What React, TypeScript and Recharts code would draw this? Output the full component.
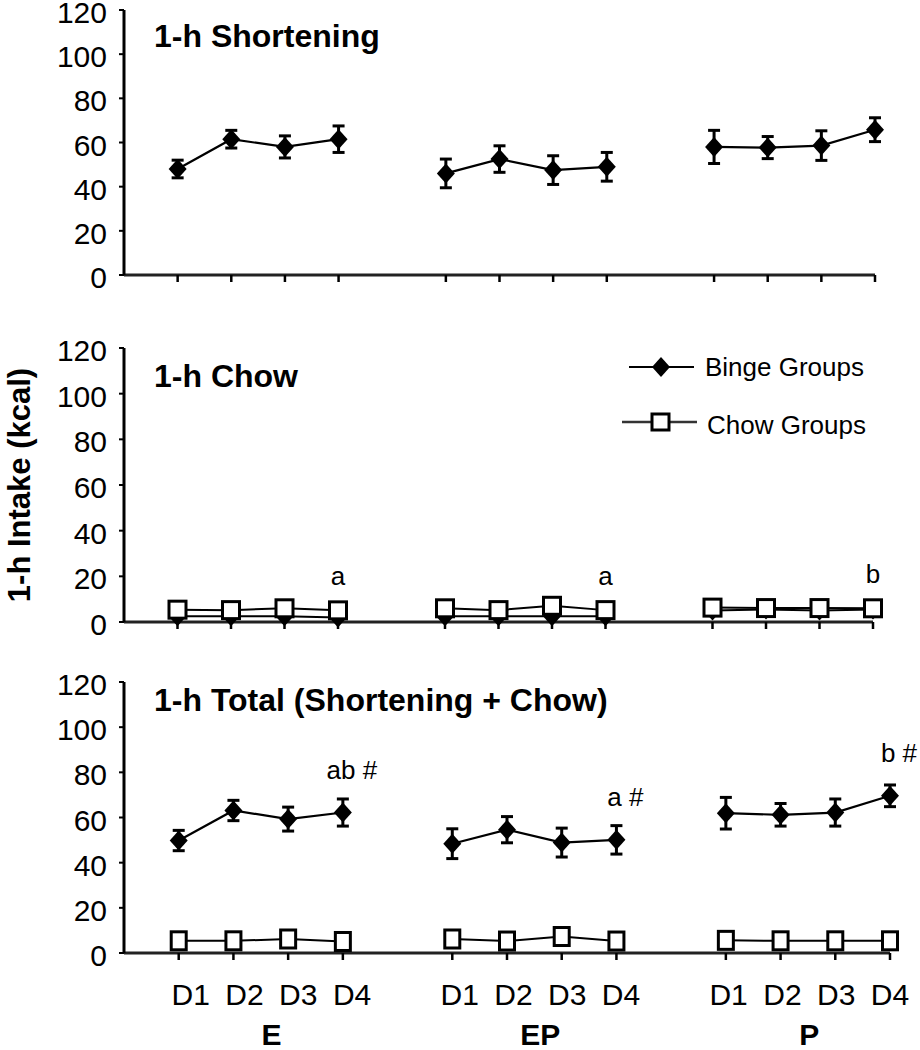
import React from "react";
import { LineChart, Line, XAxis, YAxis, ErrorBar, LabelList } from "recharts";

const FONT = '"Liberation Sans", Arial, Helvetica, sans-serif';

const days = ["D1", "D2", "D3", "D4"];
const groups = ["E", "EP", "P"];
const yTicks = [0, 20, 40, 60, 80, 100, 120];

// 1-h shortening (binge groups only)
const shortBinge = [48, 61.5, 58, 61.5, 46, 52.5, 47.5, 49, 58, 57.7, 58.6, 65.8];
const shortBingeErr = [4, 4, 5, 6, 6.5, 6, 6.5, 6.5, 7.5, 5, 6.7, 5.4];

// 1-h chow
const chowBinge = [2.5, 2.5, 2.5, 2, 2.5, 2.5, 2.5, 2.5, 5, 5.5, 5, 5.5];
const chowChow = [5.4, 5.2, 6, 5.1, 6, 5.2, 7.1, 5.2, 6.3, 6.1, 6.1, 6];
const chowNotes = ["", "", "", "a", "", "", "", "a", "", "", "", "b"];

// 1-h total
const totalBinge = [49.8, 63.1, 59.3, 62.2, 48.4, 54.6, 48.9, 50.1, 61.9, 61.2, 62.2, 69.6];
const totalBingeErr = [4.5, 4.5, 5.3, 6, 6.6, 5.8, 6.4, 6.3, 7, 5, 6, 4.8];
const totalChow = [5.4, 5.4, 6.2, 5.1, 6.2, 5.3, 7.3, 5.3, 5.6, 5.4, 5.4, 5.4];
const totalNotes = ["", "", "", "ab #", "", "", "", "a #", "", "", "", "b #"];

const xTicks = groups.flatMap((g, gi) => days.map((d, di) => gi * 5 + di + 1));
const groupCenters = groups.map((g, gi) => gi * 5 + 2.5);
const groupAnchorRows = groupCenters.map((x) => ({ x, v: 0 }));

function groupRows(values: number[], errs?: number[], notes?: string[]) {
  return groups.map((g, gi) =>
    days.map((d, di) => {
      const i = gi * 4 + di;
      return { x: gi * 5 + di + 1, v: values[i], e: errs ? errs[i] : 0, note: notes ? notes[i] : "" };
    })
  );
}

const diamondDot = (props: any) => {
  const { cx, cy, index } = props;
  if (cx == null || cy == null) return <g key={"d" + index} />;
  return (
    <path
      key={"d" + index}
      d={`M${cx},${cy - 10} L${cx + 9},${cy} L${cx},${cy + 10} L${cx - 9},${cy} Z`}
      fill="#000"
    />
  );
};

const squareDot = (w: number, h: number) => (props: any) => {
  const { cx, cy, index } = props;
  if (cx == null || cy == null) return <g key={"s" + index} />;
  return (
    <rect key={"s" + index} x={cx - w / 2} y={cy - h / 2} width={w} height={h} fill="#fff" stroke="#000" strokeWidth={3} />
  );
};

const noteLabel = (up: number, dx: number) => (props: any) => {
  const { x, y, value, index } = props;
  if (!value) return null;
  return (
    <text key={"n" + index} x={x + dx} y={y - up} textAnchor="middle" fontSize={26} fontFamily={FONT} fill="#000">
      {value}
    </text>
  );
};

// labels drift slightly left of their ticks towards the right of the axis
const labelShift = (v: number) => 12 * (1 - (v - 1) / 13);

const YTick = (props: any) => {
  const { x, y, payload } = props;
  return (
    <text x={x} y={y + 13} textAnchor="end" fontSize={30} fontFamily={FONT} fill="#000">
      {payload.value}
    </text>
  );
};

const DayTick = (props: any) => {
  const { x, y, payload } = props;
  const i = xTicks.indexOf(payload.value);
  return (
    <text x={x + labelShift(payload.value)} y={y + 45} textAnchor="middle" fontSize={30} fontFamily={FONT} fill="#000">
      {days[i % 4]}
    </text>
  );
};

const GroupTick = (props: any) => {
  const { x, y, payload } = props;
  const i = groupCenters.indexOf(payload.value);
  if (i < 0) return <g />;
  return (
    <text x={x + labelShift(payload.value)} y={y + 37} textAnchor="middle" fontSize={30} fontWeight="bold" fontFamily={FONT} fill="#000">
      {groups[i]}
    </text>
  );
};

const yAxisProps = {
  domain: [0, 120] as [number, number],
  ticks: yTicks,
  interval: 0 as const,
  width: 60,
  tickSize: 5,
  tickMargin: 12,
  axisLine: { stroke: "#000", strokeWidth: 3 },
  tickLine: { stroke: "#000", strokeWidth: 2 },
  tick: YTick,
};

const xAxisBase = {
  type: "number" as const,
  dataKey: "x",
  domain: [0, 14] as [number, number],
  ticks: xTicks,
  interval: 0 as const,
  tickSize: 7,
  axisLine: { stroke: "#222", strokeWidth: 3 },
  tickLine: { stroke: "#000", strokeWidth: 2.5 },
};

function ShorteningPanel() {
  const rows = groupRows(shortBinge, shortBingeErr);
  return (
    <LineChart width={920} height={295} margin={{ top: 10, right: 45, left: 64, bottom: 0 }}>
      <XAxis {...xAxisBase} height={20} tickFormatter={() => ""} />
      <YAxis {...yAxisProps} />
      {rows.map((r, i) => (
        <Line key={i} data={r} dataKey="v" type="linear" stroke="#000" strokeWidth={2.2} dot={diamondDot} activeDot={false} isAnimationActive={false}>
          <ErrorBar dataKey="e" direction="y" width={6} stroke="#000" strokeWidth={3} />
        </Line>
      ))}
    </LineChart>
  );
}

function ChowPanel() {
  const bRows = groupRows(chowBinge);
  const cRows = groupRows(chowChow, undefined, chowNotes);
  return (
    <LineChart width={920} height={342} margin={{ top: 48, right: 47, left: 64, bottom: 0 }}>
      <XAxis {...xAxisBase} height={20} tickFormatter={() => ""} />
      <YAxis {...yAxisProps} />
      {bRows.map((r, i) => (
        <Line key={"b" + i} data={r} dataKey="v" type="linear" stroke="#000" strokeWidth={2} dot={diamondDot} activeDot={false} isAnimationActive={false} />
      ))}
      {cRows.map((r, i) => (
        <Line key={"c" + i} data={r} dataKey="v" type="linear" stroke="#000" strokeWidth={2} dot={squareDot(17, 17)} activeDot={false} isAnimationActive={false}>
          <LabelList dataKey="note" content={noteLabel(25, 0)} />
        </Line>
      ))}
    </LineChart>
  );
}

function TotalPanel() {
  const bRows = groupRows(totalBinge, totalBingeErr, totalNotes);
  const cRows = groupRows(totalChow);
  return (
    <LineChart width={920} height={410} margin={{ top: 42, right: 30, left: 64, bottom: 0 }}>
      <XAxis {...xAxisBase} height={55} tickMargin={0} tick={DayTick} />
      <XAxis
        xAxisId="grp"
        type="number"
        dataKey="x"
        domain={[0, 14]}
        ticks={groupCenters}
        interval={0}
        height={42}
        axisLine={false}
        tickLine={false}
        tickSize={0}
        tickMargin={0}
        tick={GroupTick}
      />
      <YAxis {...yAxisProps} />
      {/* invisible series that binds the group-label axis */}
      <Line xAxisId="grp" data={groupAnchorRows} dataKey="v" stroke="none" dot={false} activeDot={false} isAnimationActive={false} legendType="none" />
      {cRows.map((r, i) => (
        <Line key={"c" + i} data={r} dataKey="v" type="linear" stroke="#000" strokeWidth={2} dot={squareDot(15, 18)} activeDot={false} isAnimationActive={false} />
      ))}
      {bRows.map((r, i) => (
        <Line key={"b" + i} data={r} dataKey="v" type="linear" stroke="#000" strokeWidth={2.2} dot={diamondDot} activeDot={false} isAnimationActive={false}>
          <ErrorBar dataKey="e" direction="y" width={6} stroke="#000" strokeWidth={3} />
          <LabelList dataKey="note" content={noteLabel(34, 9)} />
        </Line>
      ))}
    </LineChart>
  );
}

export default function App() {
  const titleStyle = { fontSize: 32, fontWeight: "bold" as const, fontFamily: FONT, fill: "#000" };
  const legendText = { fontSize: 26, fontFamily: FONT, fill: "#000" };
  return (
    <div style={{ position: "absolute", left: 0, top: 0, width: 920, height: 1050, background: "#fff", overflow: "hidden" }}>
      <div style={{ position: "absolute", left: 0, top: 0 }}>
        <ShorteningPanel />
      </div>
      <div style={{ position: "absolute", left: 0, top: 300 }}>
        <ChowPanel />
      </div>
      <div style={{ position: "absolute", left: 0, top: 640 }}>
        <TotalPanel />
      </div>
      <svg width={920} height={1050} style={{ position: "absolute", left: 0, top: 0, pointerEvents: "none" }}>
        <text x={154} y={47} {...titleStyle}>1-h Shortening</text>
        <text x={154} y={387} {...titleStyle}>1-h Chow</text>
        <text x={154} y={711} {...titleStyle}>1-h Total (Shortening + Chow)</text>
        <text
          x={30}
          y={485}
          transform="rotate(-90 30 485)"
          textAnchor="middle"
          fontSize={31}
          fontWeight="bold"
          fontFamily={FONT}
          fill="#000"
        >
          1-h Intake (kcal)
        </text>
        {/* legend */}
        <line x1={629} y1={367} x2={694} y2={367} stroke="#000" strokeWidth={2} />
        <path d="M661,357 L670,367 L661,377 L652,367 Z" fill="#000" />
        <text x={705} y={376} {...legendText}>Binge Groups</text>
        <line x1={622} y1={422} x2={697} y2={422} stroke="#333" strokeWidth={2.5} />
        <rect x={652} y={414} width={17} height={16} fill="#fff" stroke="#000" strokeWidth={3} />
        <text x={707} y={434} {...legendText}>Chow Groups</text>
      </svg>
    </div>
  );
}
